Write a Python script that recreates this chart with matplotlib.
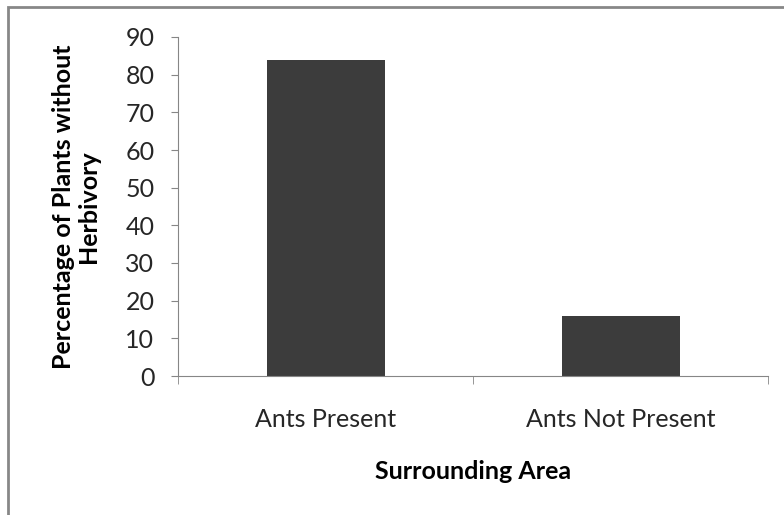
import matplotlib
matplotlib.use("Agg")
import matplotlib.pyplot as plt
from matplotlib.patches import Rectangle
import numpy as np

# data
areas = ["Ants Present", "Ants Not Present"]
pct_no_herbivory = [84, 16]
y_ticks = [0, 10, 20, 30, 40, 50, 60, 70, 80, 90]

plt.rcParams['font.family'] = ['Lato', 'DejaVu Sans']

W, H = 784, 515
fig = plt.figure(figsize=(W / 100, H / 100), dpi=100)

# outer chart border (cut off on right and bottom, like the screenshot)
fig.patches.append(Rectangle((8 / W, -0.1), 1.2, (H - 7) / H + 0.1,
                             transform=fig.transFigure, fill=False,
                             edgecolor="#878787", linewidth=2))

ax = fig.add_axes([178 / W, (H - 376) / H, (768 - 178) / W, (376 - 37) / H])

x = np.arange(len(areas))
ax.bar(x, pct_no_herbivory, width=0.4, color="#3c3c3c")

ax.set_xlim(-0.5, len(areas) - 0.5)
ax.set_ylim(0, 90)
ax.set_yticks(y_ticks)
ax.tick_params(axis="y", direction="out", length=5, color="#868686",
               labelsize=18, labelcolor="#262626", pad=12)

ax.set_xticks(x)
ax.set_xticklabels(areas)
ax.tick_params(axis="x", which="major", length=0, labelsize=18,
               labelcolor="#262626", pad=23)
ax.set_xticks(np.arange(-0.5, len(areas)), minor=True)
ax.tick_params(axis="x", which="minor", direction="out", length=6,
               color="#868686")

for s in ["top", "right"]:
    ax.spines[s].set_visible(False)
for s in ["left", "bottom"]:
    ax.spines[s].set_color("#868686")

ax.set_ylabel("Percentage of Plants without\nHerbivory", fontsize=18,
              fontweight="bold", labelpad=18, linespacing=1.1)
ax.set_xlabel("Surrounding Area", fontsize=18, fontweight="bold", labelpad=21)

fig.savefig("out.png", dpi=100)
